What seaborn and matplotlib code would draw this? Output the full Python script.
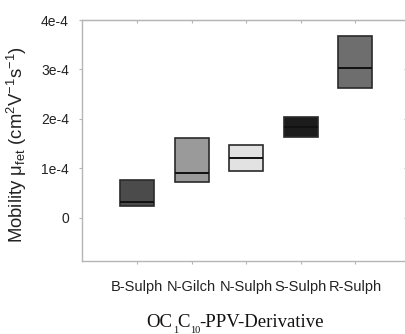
import matplotlib
matplotlib.use("Agg")
import matplotlib.pyplot as plt
import seaborn as sns
import pandas as pd

# Box statistics per derivative (cm^2 V^-1 s^-1)
categories = ["B-Sulph", "N-Gilch", "N-Sulph", "S-Sulph", "R-Sulph"]
q1_vals = [2.45e-5, 7.3e-5, 9.4e-5, 1.63e-4, 2.63e-4]
median_vals = [3.3e-5, 9.1e-5, 1.22e-4, 1.84e-4, 3.04e-4]
q3_vals = [7.7e-5, 1.62e-4, 1.47e-4, 2.03e-4, 3.68e-4]
box_colors = ["#4b4b4b", "#9a9a9a", "#e2e2e2", "#1c1c1c", "#6e6e6e"]
y_ticks = [0, 1e-4, 2e-4, 3e-4, 4e-4]
y_tick_labels = ["0", "1e-4", "2e-4", "3e-4", "4e-4"]

# Five samples per group reproduce Q1, median and Q3 exactly
rows = []
for cat, a, m, b in zip(categories, q1_vals, median_vals, q3_vals):
    for v in (a, a, m, b, b):
        rows.append({"derivative": cat, "mobility": v})
df = pd.DataFrame(rows)

sns.set_style("white")
plt.rcParams["font.family"] = ["Liberation Sans", "DejaVu Sans"]
plt.rcParams["mathtext.fontset"] = "custom"
plt.rcParams["mathtext.rm"] = "Liberation Serif"
plt.rcParams["mathtext.sf"] = "Liberation Sans"

W, H = 405, 334
fig = plt.figure(figsize=(W / 100, H / 100), dpi=100)
ax = fig.add_axes([82 / W, 1 - 261 / H, (407 - 82) / W, (261 - 20) / H])

sns.boxplot(data=df, x="derivative", y="mobility", hue="derivative",
            order=categories, hue_order=categories, palette=box_colors,
            width=0.62, whis=0, showcaps=False, showfliers=False,
            linecolor="#2a2a2a", linewidth=1.2, legend=False, ax=ax,
            medianprops={"color": "#111111", "linewidth": 1.4})

ax.set_xlim(-1.01, 4.95)
ax.set_ylim(-0.87e-4, 4e-4)
ax.set_yticks(y_ticks)
ax.set_yticklabels(y_tick_labels)

spine_grey = "#b5b5b5"
for side in ("left", "top", "bottom", "right"):
    ax.spines[side].set_visible(True)
    ax.spines[side].set_color(spine_grey)
    ax.spines[side].set_linewidth(1.0)

ax.tick_params(axis="y", left=True, right=False, direction="out",
               length=2.5, width=0.8, color=spine_grey, labelsize=10, pad=7,
               labelcolor="#222222")
ax.tick_params(axis="x", bottom=True, top=False, direction="out", length=2.5,
               width=0.8, color=spine_grey, labelsize=10.5, pad=11,
               labelcolor="#222222")

# inward ticks on the top and right frame
top = ax.secondary_xaxis("top")
top.set_xticks(range(len(categories)))
top.tick_params(direction="in", length=2.5, width=0.8, color=spine_grey,
                labeltop=False)
top.spines["top"].set_color(spine_grey)
right = ax.secondary_yaxis("right")
right.set_yticks(y_ticks)
right.tick_params(direction="in", length=2.5, width=0.8, color=spine_grey,
                  labelright=False)
right.spines["right"].set_color(spine_grey)

ax.set_xlabel("")
ax.set_ylabel(r"Mobility μ$_{\mathsf{fet}}$ (cm$^{\mathsf{2}}$V$^{\mathsf{-1}}$s$^{\mathsf{-1}}$)",
              fontsize=13.3, color="#222222")
ax.yaxis.set_label_coords(-0.2, 0.485)
ax.yaxis.label.set_va("center")

# x-axis title with dropped subscripts
serif = "Liberation Serif"
main_kw = dict(family=serif, fontsize=13.5, ha="left", va="baseline",
               color="#111111")
sub_kw = dict(family=serif, fontsize=7.5, ha="left", va="baseline",
              color="#111111")
fig.text(146 / W, 1 - 327 / H, "OC", **main_kw)
fig.text(173 / W, 1 - 333 / H, "1", **sub_kw)
fig.text(177 / W, 1 - 327 / H, "C", **main_kw)
fig.text(190 / W, 1 - 333 / H, "10", **sub_kw)
fig.text(199 / W, 1 - 327 / H, "-PPV-Derivative", **main_kw)

fig.savefig("out.png", dpi=100)
